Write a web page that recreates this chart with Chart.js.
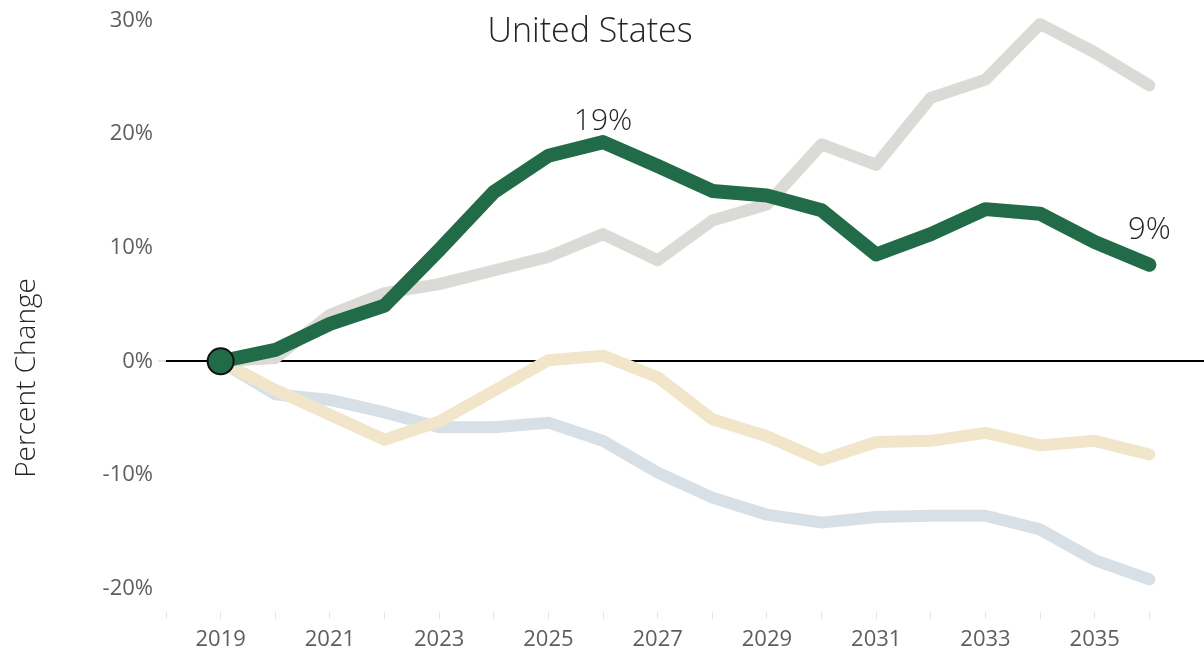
<!DOCTYPE html>
<html>
<head>
<meta charset="utf-8">
<script src="https://cdn.jsdelivr.net/npm/chart.js@4/dist/chart.umd.min.js"></script>
<style>
    body { margin: 0; background: #fff; }
    #wrap { width: 1204px; height: 660px; position: relative; }
</style>
</head>
<body>
<div id="wrap"><canvas id="myChart"></canvas></div>
<script>
// years on the x axis
const years = [2019, 2020, 2021, 2022, 2023, 2024, 2025, 2026, 2027, 2028, 2029, 2030, 2031, 2032, 2033, 2034, 2035, 2036];
const xTickYears = [2018, 2019, 2020, 2021, 2022, 2023, 2024, 2025, 2026, 2027, 2028, 2029, 2030, 2031, 2032, 2033, 2034, 2035, 2036];
const xTickLabels = [2019, 2021, 2023, 2025, 2027, 2029, 2031, 2033, 2035];
const yTicks = [-20, -10, 0, 10, 20, 30];

// percent change series
const usValues    = [0, 1.0, 3.3, 4.9, 9.8, 14.9, 18.1, 19.3, 17.2, 15.0, 14.6, 13.3, 9.4, 11.2, 13.4, 13.0, 10.5, 8.5];
const grayValues  = [0, 0.3, 4.1, 6.0, 6.8, 8.0, 9.2, 11.2, 8.9, 12.4, 13.8, 19.1, 17.3, 23.2, 24.8, 29.7, 27.2, 24.3];
const beigeValues = [0, -2.5, -4.7, -6.9, -5.3, -2.6, 0.1, 0.5, -1.4, -5.1, -6.6, -8.7, -7.1, -7.0, -6.3, -7.4, -7.0, -8.2];
const blueValues  = [0, -2.9, -3.4, -4.5, -5.8, -5.8, -5.4, -7.0, -9.8, -12.0, -13.5, -14.2, -13.7, -13.6, -13.6, -14.8, -17.5, -19.2];

// value labels on the main line
const labelIdx = [7, 17];
const labelText = ['19%', '9%'];
const labelLift = [21, 35];
const labelSize = [30, 31];

const toPoints = vals => vals.map((v, i) => ({ x: years[i], y: v }));

const textPlugin = {
    id: 'texts',
    afterDatasetsDraw(chart) {
        const c = chart.ctx;
        c.save();
        c.fillStyle = '#252423';
        c.textAlign = 'center';
        c.textBaseline = 'middle';
        const meta = chart.getDatasetMeta(0);
        labelIdx.forEach((idx, k) => {
            const p = meta.data[idx];
            c.font = '300 ' + labelSize[k] + 'px "Open Sans"';
            c.fillText(labelText[k], p.x, p.y - labelLift[k]);
        });
        c.font = '300 34px "Open Sans"';
        c.fillText('United States', 590, 32);
        c.translate(27, 378);
        c.rotate(-Math.PI / 2);
        c.font = '300 28px "Open Sans"';
        c.fillText('Percent Change', 0, 0);
        c.restore();
    }
};

const lineStyle = {
    pointRadius: 0,
    pointHoverRadius: 0,
    tension: 0,
    borderJoinStyle: 'round',
    borderCapStyle: 'round',
    fill: false
};

new Chart(document.getElementById('myChart'), {
    type: 'line',
    data: {
        datasets: [
            {
                label: 'United States',
                data: toPoints(usValues),
                borderColor: '#226b48',
                borderWidth: 14,
                order: 0,
                ...lineStyle,
                pointRadius: usValues.map((v, i) => i === 0 ? 13 : 0),
                pointBackgroundColor: '#226b48',
                pointBorderColor: '#111',
                pointBorderWidth: 2
            },
            { label: 'gray', data: toPoints(grayValues), borderColor: '#dbdad6', borderWidth: 12, order: 1, ...lineStyle },
            { label: 'beige', data: toPoints(beigeValues), borderColor: '#f1e6c9', borderWidth: 12, order: 2, ...lineStyle },
            { label: 'blue', data: toPoints(blueValues), borderColor: '#d7e0e7', borderWidth: 12, order: 3, ...lineStyle }
        ]
    },
    options: {
        responsive: true,
        maintainAspectRatio: false,
        animation: false,
        layout: { autoPadding: false, padding: { top: 4, right: 0, bottom: 0, left: 0 } },
        plugins: {
            legend: { display: false },
            tooltip: { enabled: false },
            title: { display: false }
        },
        scales: {
            x: {
                type: 'linear',
                min: 2018,
                max: 2037,
                afterBuildTicks: s => { s.ticks = xTickYears.map(v => ({ value: v })); },
                afterFit: s => { s.height = 48; },
                border: { display: false },
                grid: { drawOnChartArea: false, drawTicks: true, tickLength: 7, tickColor: '#e4e4e4', tickWidth: 1 },
                ticks: {
                    autoSkip: false,
                    maxRotation: 0,
                    padding: 8,
                    color: '#605e5c',
                    font: { family: 'Open Sans', size: 22 },
                    callback: v => xTickLabels.includes(v) ? String(v) : ''
                }
            },
            y: {
                min: -22.07,
                max: 30.21,
                afterBuildTicks: s => { s.ticks = yTicks.map(v => ({ value: v })); },
                afterFit: s => { s.width = 166; },
                border: { display: false },
                grid: {
                    drawTicks: true,
                    tickLength: 8,
                    tickColor: '#e4e4e4',
                    color: c => c.tick && c.tick.value === 0 ? '#000' : 'rgba(0,0,0,0)',
                    lineWidth: c => c.tick && c.tick.value === 0 ? 2 : 0
                },
                ticks: {
                    padding: 5,
                    color: '#605e5c',
                    font: { family: 'Open Sans', size: 22 },
                    callback: v => v + '%'
                }
            }
        }
    },
    plugins: [textPlugin]
});
</script>
</body>
</html>
